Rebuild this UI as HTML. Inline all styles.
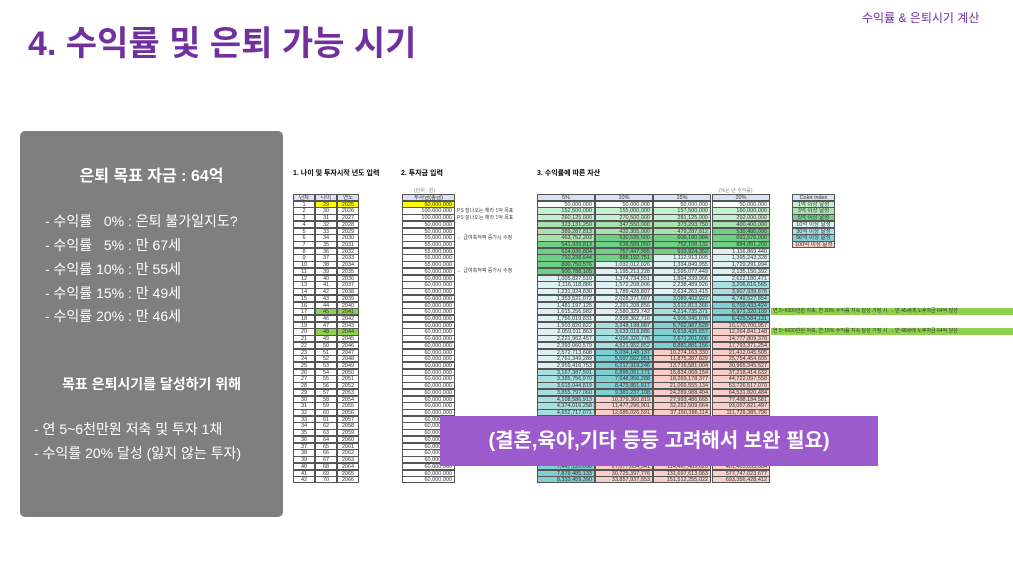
<!DOCTYPE html>
<html><head><meta charset="utf-8">
<style>
body{margin:0;width:1013px;height:570px;background:#fff;position:relative;overflow:hidden;font-family:"Liberation Sans","Noto Sans CJK KR",sans-serif;}
.a{position:absolute;white-space:nowrap;}
.c{position:absolute;box-sizing:border-box;border:0.5px solid #555;font-size:5.5px;line-height:6px;overflow:hidden;color:#333;white-space:nowrap;}
.box{position:absolute;left:20px;top:131px;width:263px;height:386px;background:#7f7f7f;border-radius:5px;color:#fff;}
.box div{position:absolute;white-space:nowrap;font-size:14px;}
</style></head><body>
<div class="a" style="left:28px;top:16px;font-size:34px;font-weight:bold;color:#7030a0;">4. 수익률 및 은퇴 가능 시기</div>
<div class="a" style="left:862px;top:9px;font-size:12px;color:#7030a0;">수익률 &amp; 은퇴시기 계산</div>
<div class="box">
<div style="left:0;width:263px;text-align:center;top:31px;font-size:16px;font-weight:bold;">은퇴 목표 자금 : 64억</div>
<div style="left:25px;top:80px;">- 수익률 &nbsp;&nbsp;0% : 은퇴 불가일지도?</div>
<div style="left:25px;top:104px;">- 수익률 &nbsp;&nbsp;5% : 만 67세</div>
<div style="left:25px;top:128px;">- 수익률 10% : 만 55세</div>
<div style="left:25px;top:152px;">- 수익률 15% : 만 49세</div>
<div style="left:25px;top:175px;">- 수익률 20% : 만 46세</div>
<div style="left:0;width:263px;text-align:center;top:243px;font-weight:bold;">목표 은퇴시기를 달성하기 위해</div>
<div style="left:14px;top:288px;">- 연 5~6천만원 저축 및 투자 1채</div>
<div style="left:14px;top:312px;">- 수익률 20% 달성 (잃지 않는 투자)</div>
</div>
<div class="a" style="left:293px;top:168px;font-size:7px;font-weight:bold;">1. 나이 및 투자시작 년도 입력</div>
<div class="a" style="left:401px;top:168px;font-size:7px;font-weight:bold;">2. 투자금 입력</div>
<div class="a" style="left:537px;top:168px;font-size:7px;font-weight:bold;">3. 수익률에 따른 자산</div>
<div class="a" style="left:414px;top:187px;font-size:5px;color:#888;">(단위 : 원)</div>
<div class="a" style="left:719px;top:187px;font-size:5px;color:#888;">(%는 년 수익률)</div>
<div id="t"></div>
<div class="a" style="left:440px;top:416px;width:438px;height:50px;background:#9c5bcc;color:#fff;font-size:20px;font-weight:bold;text-align:center;line-height:50px;">(결혼,육아,기타 등등 고려해서 보완 필요)</div>
<script>
var h='',top0=194,rh=6.72;
function cell(x,y,w,txt,bg,al,col){h+='<div class="c" style="left:'+x+'px;top:'+y.toFixed(2)+'px;width:'+w+'px;height:'+(rh+0.5).toFixed(2)+'px;background:'+bg+';text-align:'+al+';padding:0 2px;color:'+(col||'#333')+'">'+txt+'</div>';}
var hb='#d9e1f2';
cell(293,top0,22,'년차',hb,'center');cell(315,top0,22,'나이',hb,'center');cell(337,top0,22,'연도',hb,'center');
cell(402,top0,53,'투자금(총금)',hb,'center');
var rs=[0.05,0.1,0.15,0.2],xs=[537,595,653,712];
['5%','10%','15%','20%'].forEach(function(s,i){cell(xs[i],top0,58,s,hb,'center');});
function inv(n){return n==1?5e7:n<=3?1e8:n<=5?5e7:n<=10?5.5e7:6e7;}
function col(v){return v>=1e10?'#f8cfc8':v>=5e9?'#7fcfd3':v>=3e9?'#a8dfe0':v>=1e9?'#ddf1f3':v>=5e8?'#6fcf85':v>=3e8?'#a9e2b0':v>=1e8?'#c6efce':'#fff';}
function f(v){return Math.round(v).toLocaleString('en-US');}
var a=[0,0,0,0];
for(var n=1;n<=42;n++){
 var y=top0+n*rh;
 var hl=n==1?'#ffff00':(n==17||n==20)?'#8fd14f':'#fff';
 cell(293,y,22,n,'#fff','center');cell(315,y,22,28+n,hl,'center');cell(337,y,22,2024+n,hl,'center');
 cell(402,y,53,f(inv(n)),n==1?'#ffff00':'#fff','right');
 for(var i=0;i<4;i++){a[i]=n==1?5e7:a[i]*(1+rs[i])+inv(n);cell(xs[i],y,58,f(a[i]),col(a[i]),'right');}
}
var notes={2:'PS 잘나오는 해라 1억 목표',3:'PS 잘나오는 해라 1억 목표',6:'← 급여축적액 증가시 수정',11:'← 급여축적액 증가시 수정'};
for(var k in notes){h+='<div class="a" style="left:457px;top:'+(top0+k*rh-0.5)+'px;font-size:5px;color:#444;">'+notes[k]+'</div>';}
var ci=[['Color index',hb],['1억 이상 달성','#c6efce'],['3억 이상 달성','#a9e2b0'],['5억 이상 달성','#6fcf85'],['10억 이상 달성','#ddf1f3'],['30억 이상 달성','#a8dfe0'],['50억 이상 달성','#7fcfd3'],['100억 이상 달성','#f8cfc8']];
ci.forEach(function(c,i){cell(792,top0+i*rh,43,c[0],c[1],'center');});
[[17,'연 5~6000만원 저축, 연 20% 수익률 지속 달성 가정 시 → 만 45세에 노후자금 64억 달성'],[20,'연 5~6000만원 저축, 연 15% 수익률 지속 달성 가정 시 → 만 48세에 노후자금 64억 달성']].forEach(function(b){
 h+='<div class="a" style="left:771px;top:'+(top0+b[0]*rh).toFixed(2)+'px;width:242px;height:'+rh+'px;background:#8fd14f;font-size:5px;line-height:'+rh+'px;color:#333;padding-left:2px;">'+b[1]+'</div>';});
document.getElementById('t').innerHTML=h;
</script>
</body></html>
